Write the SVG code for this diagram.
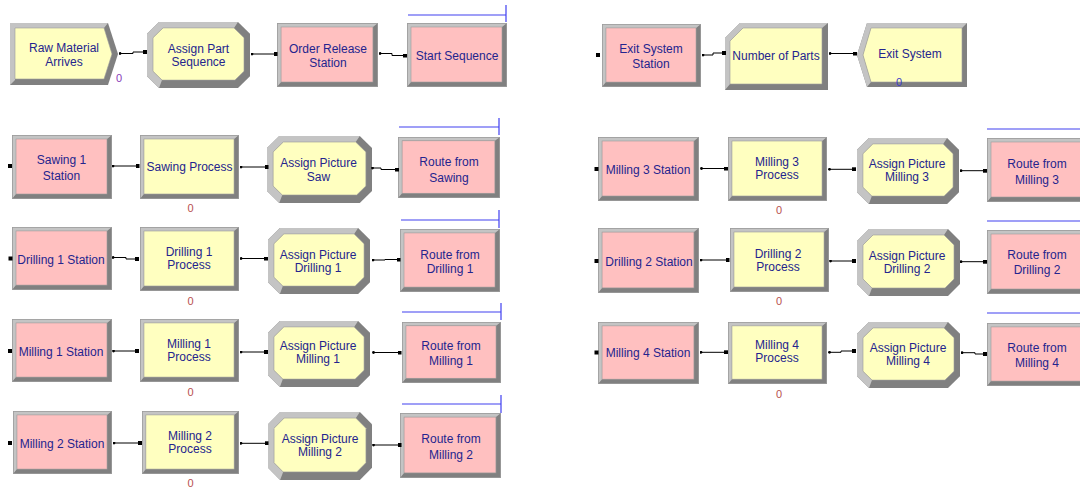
<svg xmlns="http://www.w3.org/2000/svg" xmlns:xlink="http://www.w3.org/1999/xlink" width="1080" height="490" viewBox="0 0 1080 490">
<style>
.dk{fill:#808080}
.lt{fill:#c4c4c4}
.pk{fill:#ffc0c0;stroke:#9a9a9a;stroke-width:0.6}
.yl{fill:#ffffc0;stroke:#9a9a9a;stroke-width:0.6}
.ol{fill:none;stroke:#9c9c9c;stroke-width:0.8}
text{font-family:"Liberation Sans",Arial,sans-serif;font-size:12px;fill:#24248e;text-anchor:middle}
text.cnt{font-size:11px;fill:#b85050}
text.cc{font-size:11px;fill:#8a3ab9}
text.cd{font-size:11px;fill:#3c3cc8}
.cn{fill:none;stroke:#000;stroke-width:1}
.rt{fill:none;stroke:#4040f0;stroke-width:1.2}
.ep{fill:#000}
</style>
<defs>
<symbol id="rp" viewBox="0 0 100 64" preserveAspectRatio="none">
<rect class="dk" x="0" y="0" width="100" height="64"/>
<polygon class="lt" points="0,0 100,0 95,4 4,4 4,59 0,64"/>
<rect class="pk" x="4" y="4" width="91" height="55"/>
<rect class="ol" x="0.4" y="0.4" width="99.2" height="63.2"/>
</symbol>
<symbol id="ry" viewBox="0 0 100 64" preserveAspectRatio="none">
<rect class="dk" x="0" y="0" width="100" height="64"/>
<polygon class="lt" points="0,0 100,0 95,4 4,4 4,59 0,64"/>
<rect class="yl" x="4" y="4" width="91" height="55"/>
<rect class="ol" x="0.4" y="0.4" width="99.2" height="63.2"/>
</symbol>
<symbol id="oc" viewBox="0 0 103 67" preserveAspectRatio="none">
<polygon class="dk" points="12,0 91,0 103,12 103,55 91,67 12,67 0,55 0,12"/>
<polygon class="lt" points="91,0 12,0 0,12 0,55 12,67 15,59 6,50 6,16 16,6 87,6"/>
<polygon class="yl" points="16,6 87,6 97,16 97,50 88,59 15,59 6,50 6,16"/>
</symbol>
<marker id="sq" viewBox="0 0 4 4" refX="2" refY="2" markerWidth="4" markerHeight="4" markerUnits="userSpaceOnUse" orient="0">
<rect x="0" y="0" width="4" height="4" fill="#000"/>
</marker>
<marker id="dt" viewBox="0 0 3 3" refX="1.5" refY="1.5" markerWidth="3" markerHeight="3" markerUnits="userSpaceOnUse" orient="0">
<circle cx="1.5" cy="1.5" r="1.4" fill="#000"/>
</marker>
</defs>
<rect x="0" y="0" width="1080" height="490" fill="#fff"/>

<!-- Row 1 left -->
<g id="raw-material-arrives">
<polygon class="dk" points="10,23 108,23 118,54 108,85 10,85"/>
<polygon class="lt" points="108,23 10,23 10,85 15,80 15,28 104,28"/>
<polygon class="yl" points="15,28 104,28 112,54 104,79 15,79"/>
<text x="64" y="51.5">Raw Material</text>
<text x="64" y="65.5">Arrives</text>
<text class="cc" x="119" y="82">0</text>
</g>
<g id="assign-part-sequence">
<use href="#oc" x="147" y="22" width="103" height="66"/>
<text x="198.5" y="53">Assign Part</text>
<text x="198.5" y="66">Sequence</text>
</g>
<g id="order-release-station">
<use href="#rp" x="277" y="23" width="101" height="64"/>
<text x="328" y="53">Order Release</text>
<text x="328" y="67">Station</text>
</g>
<g id="start-sequence">
<use href="#rp" x="407" y="23" width="100" height="64"/>
<text x="457" y="59.5">Start Sequence</text>
<path class="rt" d="M408 15 H506 M506 5 V22"/>
</g>

<!-- Row 1 right -->
<g id="exit-system-station">
<use href="#rp" x="602" y="24" width="99" height="63"/>
<rect class="ep" x="596" y="53" width="4" height="4"/>
<text x="651" y="52.5">Exit System</text>
<text x="651" y="67.5">Station</text>
</g>
<g id="number-of-parts">
<polygon class="dk" points="740,23 828,23 828,90 725,90 725,38"/>
<polygon class="lt" points="828,23 740,23 725,38 725,90 730,84 730,41 743,28 822,28"/>
<polygon class="yl" points="743,28 822,28 822,84 730,84 730,41"/>
<text x="776" y="59.5">Number of Parts</text>
</g>
<g id="exit-system">
<polygon class="dk" points="867,23 967,23 967,87 867,87 857,55"/>
<polygon class="lt" points="967,23 867,23 857,55 867,87 871,82 863,55 871,28 962,28"/>
<polygon class="yl" points="871,28 962,28 962,82 871,82 863,55"/>
<text x="910" y="57.5">Exit System</text>
<text class="cd" x="899" y="86">0</text>
</g>

<!-- Sawing row -->
<g id="sawing-1-station">
<use href="#rp" x="12" y="135" width="100" height="64"/>
<rect class="ep" x="8" y="164" width="4" height="4"/>
<text x="61.5" y="163.5">Sawing 1</text>
<text x="61.5" y="179.5">Station</text>
</g>
<g id="sawing-process">
<use href="#ry" x="140" y="135" width="99" height="64"/>
<text x="189.5" y="170.5">Sawing Process</text>
<text class="cnt" x="190.5" y="212">0</text>
</g>
<g id="assign-picture-saw">
<use href="#oc" x="267" y="136" width="105" height="67"/>
<text x="318.5" y="166.5">Assign Picture</text>
<text x="318.5" y="180.5">Saw</text>
</g>
<g id="route-from-sawing">
<use href="#rp" x="398" y="137" width="102" height="61"/>
<text x="449" y="165.5">Route from</text>
<text x="449" y="181.5">Sawing</text>
<path class="rt" d="M399 127 H499 M499 118 V135"/>
</g>

<!-- Drilling 1 row -->
<g id="drilling-1-station">
<use href="#rp" x="12" y="227" width="100" height="63"/>
<rect class="ep" x="8.5" y="256.5" width="4" height="4"/>
<text x="61" y="263.5">Drilling 1 Station</text>
</g>
<g id="drilling-1-process">
<use href="#ry" x="140" y="227" width="99" height="64"/>
<text x="189" y="256">Drilling 1</text>
<text x="189" y="269">Process</text>
<text class="cnt" x="190.5" y="304.5">0</text>
</g>
<g id="assign-picture-drilling-1">
<use href="#oc" x="268" y="228" width="102" height="66"/>
<text x="318" y="258.5">Assign Picture</text>
<text x="318" y="271.5">Drilling 1</text>
</g>
<g id="route-from-drilling-1">
<use href="#rp" x="400" y="229" width="100" height="63"/>
<text x="450" y="258.5">Route from</text>
<text x="450" y="272.5">Drilling 1</text>
<path class="rt" d="M401 220 H499 M499 210 V228"/>
</g>

<!-- Milling 1 row -->
<g id="milling-1-station">
<use href="#rp" x="12" y="319" width="100" height="63"/>
<rect class="ep" x="8" y="349" width="4" height="4"/>
<text x="61" y="355.5">Milling 1 Station</text>
</g>
<g id="milling-1-process">
<use href="#ry" x="140" y="319" width="99" height="63"/>
<text x="189" y="348">Milling 1</text>
<text x="189" y="361">Process</text>
<text class="cnt" x="190.5" y="396">0</text>
</g>
<g id="assign-picture-milling-1">
<use href="#oc" x="268" y="321" width="102" height="66"/>
<text x="318" y="350">Assign Picture</text>
<text x="318" y="363">Milling 1</text>
</g>
<g id="route-from-milling-1">
<use href="#rp" x="402" y="322" width="99" height="61"/>
<text x="451" y="350">Route from</text>
<text x="451" y="365">Milling 1</text>
<path class="rt" d="M402 312 H501 M501 303 V320"/>
</g>

<!-- Milling 2 row -->
<g id="milling-2-station">
<use href="#rp" x="13" y="411" width="99" height="63"/>
<rect class="ep" x="8" y="441" width="4" height="4"/>
<text x="62" y="447.5">Milling 2 Station</text>
</g>
<g id="milling-2-process">
<use href="#ry" x="142" y="411" width="97" height="63"/>
<text x="190" y="439.5">Milling 2</text>
<text x="190" y="452.5">Process</text>
<text class="cnt" x="190.5" y="487">0</text>
</g>
<g id="assign-picture-milling-2">
<use href="#oc" x="268" y="412" width="104" height="68"/>
<text x="320" y="442.5">Assign Picture</text>
<text x="320" y="455.5">Milling 2</text>
</g>
<g id="route-from-milling-2">
<use href="#rp" x="400" y="413" width="101" height="65"/>
<text x="451" y="442.5">Route from</text>
<text x="451" y="458.5">Milling 2</text>
<path class="rt" d="M402 404 H501 M501 395 V413"/>
</g>

<!-- Milling 3 row -->
<g id="milling-3-station">
<use href="#rp" x="598" y="137" width="101" height="64"/>
<rect class="ep" x="594.5" y="167" width="4" height="4"/>
<text x="648" y="173.5">Milling 3 Station</text>
</g>
<g id="milling-3-process">
<use href="#ry" x="728" y="137" width="99" height="64"/>
<text x="777" y="165.5">Milling 3</text>
<text x="777" y="178.5">Process</text>
<text class="cnt" x="779" y="214">0</text>
</g>
<g id="assign-picture-milling-3">
<use href="#oc" x="857" y="138" width="102" height="66"/>
<text x="907" y="168">Assign Picture</text>
<text x="907" y="181">Milling 3</text>
</g>
<g id="route-from-milling-3">
<use href="#rp" x="987" y="138" width="100" height="64"/>
<text x="1037" y="167.5">Route from</text>
<text x="1037" y="183.5">Milling 3</text>
<path class="rt" d="M987 129 H1080"/>
</g>

<!-- Drilling 2 row -->
<g id="drilling-2-station">
<use href="#rp" x="598" y="228" width="101" height="65"/>
<rect class="ep" x="594.5" y="259" width="4" height="4"/>
<text x="649" y="265.5">Drilling 2 Station</text>
</g>
<g id="drilling-2-process">
<use href="#ry" x="730" y="228" width="99" height="64"/>
<text x="778" y="257.5">Drilling 2</text>
<text x="778" y="270.5">Process</text>
<text class="cnt" x="779" y="305">0</text>
</g>
<g id="assign-picture-drilling-2">
<use href="#oc" x="857" y="229" width="103" height="67"/>
<text x="907" y="259.5">Assign Picture</text>
<text x="907" y="272.5">Drilling 2</text>
</g>
<g id="route-from-drilling-2">
<use href="#rp" x="987" y="230" width="100" height="64"/>
<text x="1037" y="258.5">Route from</text>
<text x="1037" y="273.5">Drilling 2</text>
<path class="rt" d="M987 221 H1080"/>
</g>

<!-- Milling 4 row -->
<g id="milling-4-station">
<use href="#rp" x="598" y="322" width="101" height="62"/>
<rect class="ep" x="594.5" y="350.5" width="4" height="4"/>
<text x="648" y="357">Milling 4 Station</text>
</g>
<g id="milling-4-process">
<use href="#ry" x="728" y="322" width="99" height="62"/>
<text x="777" y="349">Milling 4</text>
<text x="777" y="362">Process</text>
<text class="cnt" x="779" y="398">0</text>
</g>
<g id="assign-picture-milling-4">
<use href="#oc" x="857" y="322" width="103" height="66"/>
<text x="908" y="351.5">Assign Picture</text>
<text x="908" y="364.5">Milling 4</text>
</g>
<g id="route-from-milling-4">
<use href="#rp" x="987" y="323" width="100" height="63"/>
<text x="1037" y="351.5">Route from</text>
<text x="1037" y="366.5">Milling 4</text>
<path class="rt" d="M987 313 H1080"/>
</g>

<!-- Connectors -->
<g id="connectors" marker-start="url(#dt)" marker-end="url(#sq)">
<path class="cn" d="M120 53.5 H133 V52 H145"/>
<path class="cn" d="M252 54 H275.5"/>
<path class="cn" d="M380 53.5 H392 V55.5 H405"/>
<path class="cn" d="M703 55 H713 V53 H724"/>
<path class="cn" d="M830 53.5 H855"/>

<path class="cn" d="M113 166 H137.5"/>
<path class="cn" d="M241 167 H266.5"/>
<path class="cn" d="M372.5 168 H381 V169.5 H397"/>

<path class="cn" d="M113 257.5 H126 V259 H137"/>
<path class="cn" d="M241 258.5 H266"/>
<path class="cn" d="M373 260 H385 V259.5 H398.5"/>

<path class="cn" d="M113.5 351 H137"/>
<path class="cn" d="M241 352 H266"/>
<path class="cn" d="M373.5 352.5 H399.5"/>

<path class="cn" d="M114 443 H140"/>
<path class="cn" d="M241 443.3 H266.5"/>
<path class="cn" d="M373.5 445 H399.5"/>

<path class="cn" d="M701.5 168.5 H726"/>
<path class="cn" d="M829.5 169.3 H854"/>
<path class="cn" d="M961 170.7 H985"/>

<path class="cn" d="M701 260 H727.5"/>
<path class="cn" d="M830.5 261 H854"/>
<path class="cn" d="M961 261.7 H985"/>

<path class="cn" d="M701 352.3 H726"/>
<path class="cn" d="M829.5 352.3 H841 V351 H854"/>
<path class="cn" d="M962 352.7 H975 V354 H985"/>
</g>
</svg>
